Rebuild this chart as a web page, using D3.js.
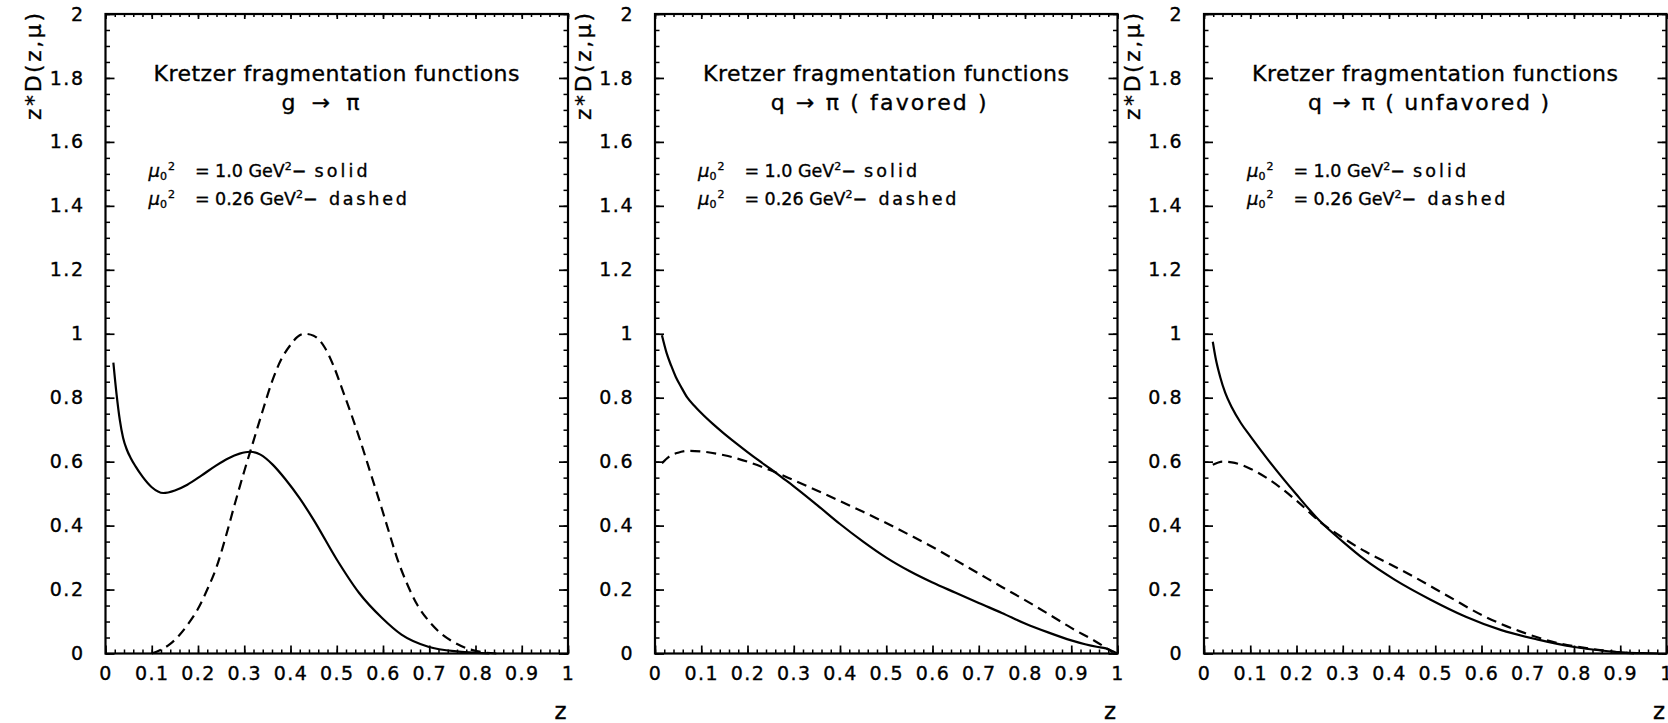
<!DOCTYPE html>
<html>
<head>
<meta charset="utf-8">
<script src="https://cdn.jsdelivr.net/npm/d3@7"></script>
<style>
  body { margin: 0; background: #fff; }
  svg { display: block; font-family: "DejaVu Sans", sans-serif; }
  .txt { fill: #000; stroke: #000; stroke-width: 0.35px; }
</style>
</head>
<body>
<div id="chart"></div>
<script>
// ---- values ----
const xTicks = [0, 0.1, 0.2, 0.3, 0.4, 0.5, 0.6, 0.7, 0.8, 0.9, 1];
const xTickLabels = ["0", "0.1", "0.2", "0.3", "0.4", "0.5", "0.6", "0.7", "0.8", "0.9", "1"];
const yTicks = [0, 0.2, 0.4, 0.6, 0.8, 1, 1.2, 1.4, 1.6, 1.8, 2];
const yTickLabels = ["0", "0.2", "0.4", "0.6", "0.8", "1", "1.2", "1.4", "1.6", "1.8", "2"];

const titleLine1 = "Kretzer fragmentation functions";
const titleLine2 = ["g \u2192 \u03c0", "q \u2192 \u03c0 ( favored )", "q \u2192 \u03c0 ( unfavored )"];
const scaleValues = ["1.0", "0.26"];      // mu0^2 in GeV^2
const styleNames = ["solid", "dashed"];
const yLabel = "z*D(z,\u03bc)";
const xLabel = "z";

// g -> pi
const gSolidZ = [0.017, 0.024, 0.031, 0.038, 0.046, 0.055, 0.065, 0.08, 0.10, 0.125, 0.15, 0.177, 0.208, 0.238, 0.265, 0.29, 0.312, 0.335, 0.362, 0.389, 0.42, 0.45, 0.50, 0.548, 0.598, 0.64, 0.698, 0.764, 0.805, 0.83];
const gSolidD = [0.91, 0.81, 0.73, 0.675, 0.638, 0.61, 0.585, 0.553, 0.52, 0.502, 0.51, 0.528, 0.557, 0.587, 0.61, 0.625, 0.631, 0.622, 0.59, 0.545, 0.485, 0.418, 0.294, 0.19, 0.111, 0.059, 0.021, 0.006, 0.002, 0.0];
const gDashZ = [0.10, 0.12, 0.14, 0.16, 0.18, 0.20, 0.22, 0.24, 0.26, 0.28, 0.30, 0.32, 0.34, 0.36, 0.38, 0.40, 0.415, 0.43, 0.45, 0.474, 0.493, 0.512, 0.531, 0.551, 0.574, 0.597, 0.615, 0.63, 0.65, 0.675, 0.70, 0.725, 0.75, 0.79, 0.82, 0.845];
const gDashD = [0.0, 0.012, 0.03, 0.058, 0.095, 0.14, 0.20, 0.27, 0.365, 0.47, 0.57, 0.665, 0.76, 0.85, 0.92, 0.965, 0.99, 1.0, 0.994, 0.957, 0.90, 0.826, 0.75, 0.665, 0.56, 0.455, 0.37, 0.30, 0.225, 0.15, 0.10, 0.063, 0.038, 0.012, 0.003, 0.0];

// q -> pi (favored)
const favSolidZ = [0.015, 0.025, 0.035, 0.045, 0.056, 0.07, 0.085, 0.10, 0.125, 0.15, 0.175, 0.20, 0.225, 0.25, 0.275, 0.30, 0.35, 0.40, 0.45, 0.50, 0.55, 0.60, 0.65, 0.70, 0.75, 0.80, 0.85, 0.90, 0.93, 0.955, 0.975, 0.99, 1.0];
const favSolidD = [0.995, 0.94, 0.90, 0.865, 0.835, 0.80, 0.775, 0.752, 0.718, 0.687, 0.658, 0.63, 0.603, 0.577, 0.55, 0.523, 0.465, 0.405, 0.35, 0.30, 0.258, 0.222, 0.19, 0.158, 0.127, 0.094, 0.066, 0.041, 0.029, 0.021, 0.016, 0.007, 0.0];
const favDashZ = [0.015, 0.03, 0.05, 0.075, 0.10, 0.15, 0.20, 0.25, 0.30, 0.35, 0.40, 0.45, 0.50, 0.55, 0.60, 0.65, 0.70, 0.75, 0.80, 0.85, 0.90, 0.95, 0.99];
const favDashD = [0.595, 0.615, 0.628, 0.634, 0.632, 0.62, 0.60, 0.573, 0.542, 0.51, 0.477, 0.443, 0.408, 0.371, 0.333, 0.292, 0.25, 0.208, 0.167, 0.124, 0.08, 0.04, 0.004];

// q -> pi (unfavored)
const unfSolidZ = [0.019, 0.025, 0.035, 0.046, 0.06, 0.08, 0.10, 0.139, 0.20, 0.25, 0.30, 0.347, 0.412, 0.489, 0.566, 0.643, 0.72, 0.797, 0.874, 0.912, 0.95, 0.98];
const unfSolidD = [0.975, 0.925, 0.865, 0.815, 0.77, 0.72, 0.68, 0.605, 0.497, 0.415, 0.35, 0.294, 0.231, 0.169, 0.115, 0.073, 0.044, 0.021, 0.007, 0.003, 0.001, 0.0];
const unfDashZ = [0.019, 0.04, 0.06, 0.10, 0.139, 0.20, 0.25, 0.30, 0.35, 0.382, 0.451, 0.528, 0.605, 0.682, 0.758, 0.835, 0.897, 0.93];
const unfDashD = [0.59, 0.60, 0.598, 0.578, 0.546, 0.478, 0.413, 0.362, 0.318, 0.294, 0.242, 0.179, 0.117, 0.07, 0.035, 0.015, 0.004, 0.0];

// ---- layout ----
const W = 1668, H = 723;
const panelLeft = [105.5, 655, 1204];
const panelW = 462.5, panelTop = 14, panelBottom = 653.5;
const line2Center = [215, 223.7, 224.6];
const line2Width = [78, 216, 241];

const panels = [
  {solid: [gSolidZ, gSolidD], dash: [gDashZ, gDashD]},
  {solid: [favSolidZ, favSolidD], dash: [favDashZ, favDashD]},
  {solid: [unfSolidZ, unfSolidD], dash: [unfDashZ, unfDashD]}
];

const xMinor = d3.range(0, 1.0001, 0.02);
const yMinor = d3.range(0, 2.0001, 0.05);

const svg = d3.select("#chart").append("svg")
    .attr("width", W)
    .attr("height", H);

function styleAxis(g, w) {
    g.select(".domain").remove();
    g.selectAll(".tick line").attr("stroke", "#000").attr("stroke-width", w);
}

function styleLabels(g) {
    g.selectAll("text")
        .attr("class", "txt")
        .attr("font-family", "DejaVu Sans").attr("font-size", 19)
        .attr("letter-spacing", 1.5);
}

panels.forEach((p, i) => {
    const left = panelLeft[i];
    const x = d3.scaleLinear().domain([0, 1]).range([left, left + panelW]);
    const y = d3.scaleLinear().domain([0, 2]).range([panelBottom, panelTop]);
    const g = svg.append("g");

    // minor ticks, all four sides, pointing inwards
    g.append("g").attr("transform", `translate(0,${panelBottom})`)
        .call(d3.axisBottom(x).tickValues(xMinor).tickSize(-4).tickFormat(""))
        .call(a => styleAxis(a, 1.5));
    g.append("g").attr("transform", `translate(0,${panelTop})`)
        .call(d3.axisTop(x).tickValues(xMinor).tickSize(-3).tickFormat(""))
        .call(a => styleAxis(a, 1.5));
    g.append("g").attr("transform", `translate(${left},0)`)
        .call(d3.axisLeft(y).tickValues(yMinor).tickSize(-4.5).tickFormat(""))
        .call(a => styleAxis(a, 1.5));
    g.append("g").attr("transform", `translate(${left + panelW},0)`)
        .call(d3.axisRight(y).tickValues(yMinor).tickSize(-4.5).tickFormat(""))
        .call(a => styleAxis(a, 1.5));

    // major ticks with labels
    g.append("g").attr("transform", `translate(0,${panelBottom})`)
        .call(d3.axisBottom(x).tickValues(xTicks).tickSizeInner(-8).tickSizeOuter(0)
            .tickPadding(13).tickFormat((d, k) => xTickLabels[k]))
        .call(a => styleAxis(a, 1.7))
        .call(styleLabels);
    g.append("g").attr("transform", `translate(${left},0)`)
        .call(d3.axisLeft(y).tickValues(yTicks).tickSizeInner(-9).tickSizeOuter(0)
            .tickPadding(21).tickFormat((d, k) => yTickLabels[k]))
        .call(a => styleAxis(a, 1.7))
        .call(styleLabels);
    g.append("g").attr("transform", `translate(0,${panelTop})`)
        .call(d3.axisTop(x).tickValues(xTicks).tickSize(-5).tickFormat(""))
        .call(a => styleAxis(a, 1.7));
    g.append("g").attr("transform", `translate(${left + panelW},0)`)
        .call(d3.axisRight(y).tickValues(yTicks).tickSize(-9).tickFormat(""))
        .call(a => styleAxis(a, 1.7));

    // frame
    g.append("rect")
        .attr("x", x(0)).attr("y", y(2))
        .attr("width", x(1) - x(0)).attr("height", y(0) - y(2))
        .attr("fill", "none").attr("stroke", "#000").attr("stroke-width", 2.2);

    // curves
    const line = d3.line()
        .x(d => x(d[0]))
        .y(d => y(d[1]))
        .curve(d3.curveMonotoneX);
    g.append("path")
        .datum(d3.zip(p.solid[0], p.solid[1]))
        .attr("d", line)
        .attr("fill", "none").attr("stroke", "#000").attr("stroke-width", 2.2);
    g.append("path")
        .datum(d3.zip(p.dash[0], p.dash[1]))
        .attr("d", line)
        .attr("fill", "none").attr("stroke", "#000").attr("stroke-width", 2.2)
        .attr("stroke-dasharray", "10,6");

    // title
    g.append("text").attr("class", "txt")
        .attr("x", left + 231).attr("y", 81)
        .attr("text-anchor", "middle").attr("font-size", 22)
        .attr("textLength", 366).attr("lengthAdjust", "spacing")
        .text(titleLine1);
    g.append("text").attr("class", "txt")
        .attr("x", left + line2Center[i]).attr("y", 110)
        .attr("text-anchor", "middle").attr("font-size", 22)
        .attr("textLength", line2Width[i]).attr("lengthAdjust", "spacing")
        .text(titleLine2[i]);

    // legend lines: mu0^2 = ... GeV^2 - solid / dashed
    const lx = left + 43;
    const nameOffset = [166, 180.4];
    const nameWidth = [53, 78];
    [176.5, 205].forEach((by, k) => {
        const t = g.append("text").attr("class", "txt").attr("y", by).attr("font-size", 18);
        t.append("tspan").attr("x", lx).attr("font-style", "italic").text("\u03bc");
        t.append("tspan").attr("font-size", 11).attr("dy", 3).text("0");
        t.append("tspan").attr("font-size", 11).attr("dy", -10).attr("dx", 1).text("2");
        const t2 = g.append("text").attr("class", "txt").attr("y", by).attr("font-size", 17.5);
        t2.append("tspan").attr("x", lx + 46.4).text(`= ${scaleValues[k]} GeV`);
        t2.append("tspan").attr("font-size", 11).attr("dy", -7).text("2");
        t2.append("tspan").attr("dy", 7).text("\u2212");
        g.append("text").attr("class", "txt").attr("x", lx + nameOffset[k]).attr("y", by)
            .attr("font-size", 17.5)
            .attr("textLength", nameWidth[k]).attr("lengthAdjust", "spacing")
            .text(styleNames[k]);
    });

    // axis titles
    g.append("text").attr("class", "txt")
        .attr("transform", `translate(${left - 64.5},${panelTop - 1}) rotate(-90)`)
        .attr("text-anchor", "end").attr("font-size", 22)
        .attr("textLength", 107).attr("lengthAdjust", "spacing")
        .text(yLabel);
    g.append("text").attr("class", "txt")
        .attr("x", left + panelW - 1.5).attr("y", 718.5)
        .attr("text-anchor", "end").attr("font-size", 23)
        .text(xLabel);
});
</script>
</body>
</html>
